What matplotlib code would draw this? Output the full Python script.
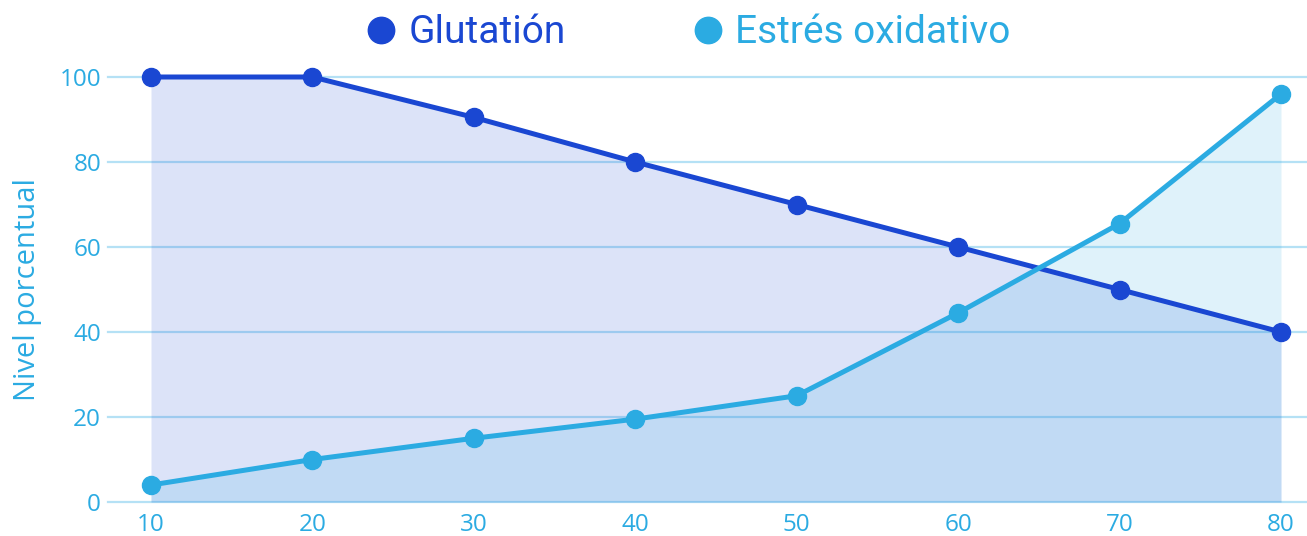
import matplotlib.pyplot as plt
from matplotlib.lines import Line2D
import numpy as np

# data
edades = ["10", "20", "30", "40", "50", "60", "70", "80"]
glutation = [100, 100, 90.5, 80, 70, 60, 50, 40]
estres = [4, 10, 15, 19.5, 25, 44.5, 65.5, 96]
y_ticks = [0, 20, 40, 60, 80, 100]

azul = "#1a47d2"
celeste = "#2babe2"
grid_col = "#b5e1f5"

plt.rcParams['font.family'] = ['Open Sans', 'DejaVu Sans']

fig = plt.figure(figsize=(13.07, 5.36), dpi=100)
ax = fig.add_axes([108 / 1307, 1 - 502 / 536, 1 - 108 / 1307, (502 - 77) / 536])

x = np.arange(len(edades))

ax.fill_between(x, glutation, 0, color=azul, alpha=0.15, linewidth=0, zorder=1)
ax.fill_between(x, estres, 0, color=celeste, alpha=0.15, linewidth=0, zorder=1)

for yt in y_ticks:
    ax.axhline(yt, color=grid_col, linewidth=1.6, zorder=0.5, clip_on=False)

ax.plot(x, glutation, color=azul, linewidth=3.6, marker="o", markersize=13,
        clip_on=False, zorder=3)
ax.plot(x, estres, color=celeste, linewidth=3.6, marker="o", markersize=13,
        clip_on=False, zorder=3)

ax.set_xlim(-(151 - 108) / 161.4, 7 + (1307 - 1281) / 161.4)
ax.set_ylim(0, 100)
ax.set_xticks(x)
ax.set_xticklabels(edades)
ax.set_yticks(y_ticks)
ax.tick_params(axis="both", length=0, labelsize=17.5, labelcolor=celeste)
ax.tick_params(axis="x", pad=8)
ax.tick_params(axis="y", pad=5)
for s in ax.spines.values():
    s.set_visible(False)
ax.set_ylabel("Nivel porcentual", color=celeste, fontsize=21)
ax.yaxis.set_label_coords(-66 / 1199, 0.5)

handles = [
    Line2D([], [], linestyle="none", marker="o", markersize=19, color=azul),
    Line2D([], [], linestyle="none", marker="o", markersize=19, color=celeste),
]
leg = fig.legend(handles, ["Glutatión", "Estrés oxidativo"], loc="center",
                 bbox_to_anchor=(0.525, 0.939), ncol=2, frameon=False,
                 prop={"family": "Roboto", "size": 28}, handletextpad=0.2,
                 columnspacing=3.15, handlelength=1.0)
for t, c in zip(leg.get_texts(), [azul, celeste]):
    t.set_color(c)

fig.savefig("out.png", dpi=100)
